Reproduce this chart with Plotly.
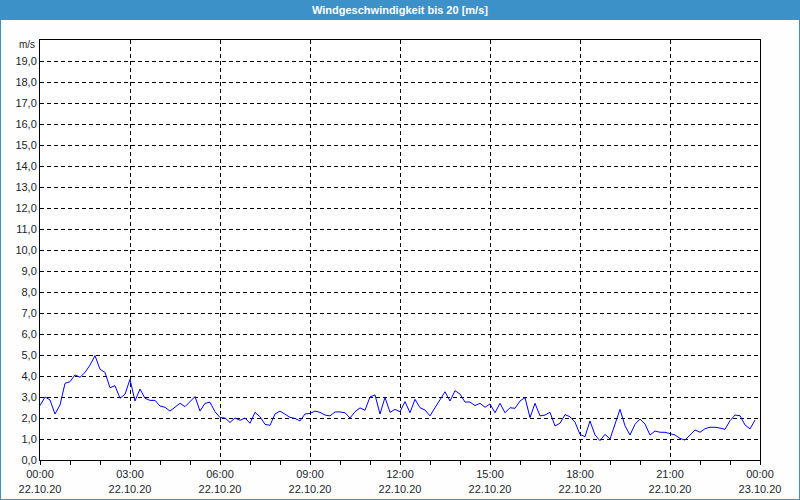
import pandas as pd
import plotly.graph_objects as go

# 10-minute wind speed values, 22.10.20 00:00 .. 23:50 (m/s)
wind_00_06 = [2.59, 3.00, 2.86, 2.19, 2.62, 3.65, 3.73, 4.05, 3.94, 4.17, 4.52, 4.97,
              4.32, 4.17, 3.44, 3.54, 2.94, 3.13, 3.84, 2.81, 3.38, 2.94, 2.84, 2.84,
              2.57, 2.51, 2.33, 2.51, 2.70, 2.54, 2.78, 3.02, 2.33, 2.70, 2.75, 2.30]
wind_06_12 = [2.02, 2.00, 1.79, 2.00, 1.89, 2.00, 1.75, 2.27, 2.06, 1.70, 1.65, 2.19,
              2.33, 2.19, 2.03, 1.98, 1.86, 2.19, 2.22, 2.33, 2.27, 2.14, 2.10, 2.29,
              2.29, 2.25, 2.00, 2.30, 2.48, 2.37, 3.00, 3.10, 2.19, 2.98, 2.27, 2.41]
wind_12_18 = [2.30, 2.78, 2.25, 2.89, 2.49, 2.38, 2.10, 2.49, 2.86, 3.25, 2.81, 3.30,
              3.14, 2.76, 2.76, 2.59, 2.70, 2.51, 2.67, 2.25, 2.70, 2.25, 2.49, 2.46,
              2.81, 2.97, 2.02, 2.70, 2.10, 2.14, 2.27, 1.62, 1.75, 2.16, 2.06, 1.80]
wind_18_24 = [1.22, 1.11, 1.86, 1.19, 0.92, 1.22, 1.00, 1.67, 2.41, 1.63, 1.19, 1.70,
              1.95, 1.71, 1.19, 1.38, 1.32, 1.32, 1.24, 1.19, 1.03, 0.95, 1.19, 1.43,
              1.32, 1.49, 1.56, 1.56, 1.52, 1.46, 1.87, 2.14, 2.11, 1.67, 1.48, 1.90]
wind = wind_00_06 + wind_06_12 + wind_12_18 + wind_18_24

times = pd.date_range("2020-10-22 00:00", periods=len(wind), freq="10min")

tick_times = pd.date_range("2020-10-22 00:00", "2020-10-23 00:00", freq="3h")
tick_labels = ["00:00<br>22.10.20", "03:00<br>22.10.20", "06:00<br>22.10.20",
               "09:00<br>22.10.20", "12:00<br>22.10.20", "15:00<br>22.10.20",
               "18:00<br>22.10.20", "21:00<br>22.10.20", "00:00<br>23.10.20"]
y_ticks = list(range(0, 20))
y_labels = [f"{v},0" for v in y_ticks]

title_text = "<b>Windgeschwindigkeit bis 20 [m/s]</b>"
unit_text = "m/s"

W, H = 800, 500
ML, MR, MT, MB = 40, 40, 40, 40
PW, PH = W - ML - MR, H - MT - MB
BLUE = "#3d91c9"
FONT = "Liberation Sans"
TXT = "#1c1f2e"

fig = go.Figure()
fig.add_trace(go.Scatter(x=times, y=wind, mode="lines",
                         line=dict(color="#0000ff", width=1), hoverinfo="skip"))

fig.update_layout(
    width=W, height=H,
    margin=dict(l=ML, r=MR, t=MT, b=MB, autoexpand=False),
    paper_bgcolor="#fdfefd", plot_bgcolor="#ffffff",
    showlegend=False,
    font=dict(family=FONT, size=10, color=TXT),
    xaxis=dict(
        range=[tick_times[0], tick_times[-1]],
        tickmode="array", tickvals=tick_times, ticktext=tick_labels,
        ticks="outside", ticklen=4, tickcolor="#000000", tickwidth=1,
        showgrid=True, gridcolor="#000000", gridwidth=1, griddash="4px,3px",
        showline=True, linecolor="#000000", linewidth=1, mirror=True,
        zeroline=False, tickangle=0, automargin=False,
        minor=dict(dtick=3600000, ticks="outside", ticklen=4,
                   tickcolor="#000000", showgrid=False),
        tickfont=dict(family=FONT, size=11, color=TXT),
    ),
    yaxis=dict(
        range=[0, 20],
        tickmode="array", tickvals=y_ticks, ticktext=y_labels,
        ticks="", showgrid=True, gridcolor="#000000", gridwidth=1,
        griddash="4px,3px", automargin=False,
        showline=True, linecolor="#000000", linewidth=1, mirror=True,
        zeroline=False,
        tickfont=dict(family=FONT, size=11, color=TXT),
    ),
    shapes=[
        dict(type="rect", xref="paper", yref="paper",
             x0=-ML / PW, x1=1 + MR / PW, y0=1 + (MT - 20) / PH, y1=1 + MT / PH,
             fillcolor=BLUE, line=dict(width=0), layer="above"),
        dict(type="rect", xref="paper", yref="paper",
             x0=-ML / PW, x1=1 + MR / PW, y0=-MB / PH, y1=1 + MT / PH,
             fillcolor="rgba(0,0,0,0)", line=dict(color=BLUE, width=2), layer="above"),
    ],
    annotations=[
        dict(text=title_text, xref="paper", yref="paper",
             x=0.5, y=1 + (MT - 9.5) / PH, xanchor="center", yanchor="middle",
             showarrow=False, font=dict(family=FONT, size=11, color="#ffffff")),
        dict(text=unit_text, xref="paper", yref="paper",
             x=0, y=(PH - 5) / PH, xanchor="right", yanchor="middle", xshift=-3,
             showarrow=False, font=dict(family=FONT, size=10, color=TXT)),
    ],
)

fig.write_html("out.html", config={"displayModeBar": False},
               post_script="document.body.style.margin='0';")
